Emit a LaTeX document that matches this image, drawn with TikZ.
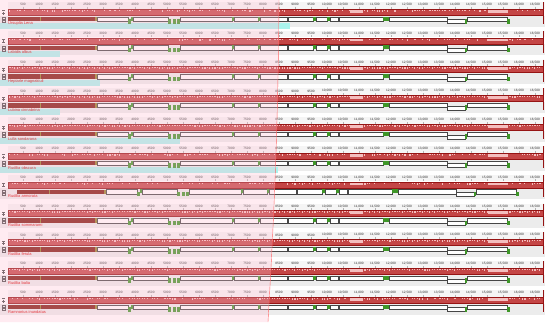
\documentclass[tikz,border=0pt]{standalone}
\usepackage{fontspec}
\setmainfont{Liberation Sans}
\usepackage{xcolor}
\usetikzlibrary{positioning}
\definecolor{lcbred}{RGB}{196,70,70}
\definecolor{lcbedge}{RGB}{150,20,20}
\definecolor{lcbpale}{RGB}{244,190,190}
\definecolor{rrnabrown}{RGB}{128,24,14}
\definecolor{rrnaolive}{RGB}{150,130,40}
\definecolor{trnagreen}{RGB}{62,150,40}
\definecolor{annotgray}{RGB}{236,236,236}
\definecolor{overlaypink}{RGB}{255,190,210}
\definecolor{bandcyan}{RGB}{170,244,238}

\begin{document}
\begin{tikzpicture}[x=1pt, y=-1pt,
  rulerlab/.style={font=\fontsize{3.2}{3.2}\selectfont, text=gray!35!black, inner sep=0pt},
  rulertick/.style={draw=gray!60, line width=0.3pt},
  speciesname/.style={font=\fontsize{4}{4}\selectfont, text=red!85!black, anchor=west, inner sep=0pt},
  lcbbox/.style={draw=lcbedge, line width=0.4pt},
  genebox/.style={draw=gray!55!black, line width=0.25pt, fill=white},
  rrnabar/.style={fill=rrnabrown},
  trnamark/.style={fill=trnagreen},
  sidemark/.style={draw=gray!60!black, line width=0.3pt}
]
\useasboundingbox (0,0) rectangle (550,322);
\fill[white] (0,0) rectangle (550,322);
\pgfmathsetseed{7}
% one Mauve panel per genome
\foreach \sp/\band [count=\k] in {Ursuplia Lena/290, Labidis albus/60, Heptarle magnakiuli/100, Lubina cinnabrina/60, Lulla sondarana/180, Rudilia obscura/278, Rudilia armorata/0, Rudilia sommarami/0, Rudilia ferula/0, Rudilia balia/0, Ramnorius inundatus/0} {
  \pgfmathsetmacro{\t}{(\k-1)*28.8}
  \pgfmathsetmacro{\s}{\k==7 ? 9 : 0}
  \begin{scope}[shift={(0,\t)}]
    % annotation background and highlight band
    \fill[annotgray] (0,15.5) rectangle (545,26.5);
    \ifnum\band>0 \fill[bandcyan] (0,22.5) rectangle (\band,28.5); \fi
    % ruler
    \fill[gray!8] (8,2) rectangle (545,8.5);
    \foreach \lab [count=\i] in {500,1000,1500,2000,2500,3000,3500,4000,4500,5000,5500,6000,6500,7000,7500,8000,8500,9000,9500,{10,000},{10,500},{11,000},{11,500},{12,000},{12,500},{13,000},{13,500},{14,000},{14,500},{15,000},{15,500},{16,000},{16,500}} {
      \node[rulerlab] (r\k-\i) at ({7+16*\i},4.5) {\lab};
      \draw[rulertick] ({7+16*\i},6.6) -- ({7+16*\i},8.5);
    }
    % aligned block with similarity profile
    \fill[lcbred] (8,9) rectangle (543,15);
    \foreach \xx in {9,11.5,...,540} {
      \pgfmathsetmacro{\hh}{0.3+2.2*rnd}
      \pgfmathsetmacro{\ww}{0.6+1.4*rnd}
      \fill[lcbpale] (\xx,9.4) rectangle ({\xx+\ww},{9.4+\hh});
    }
    \fill[lcbpale] (350,9.4) rectangle (363,12.5);
    \fill[lcbpale] (488,9.4) rectangle (508,12.5);
    \draw[lcbbox] (8,9) rectangle (543,15);
    \draw[lcbedge, line width=0.4pt] (543,2) -- (543,24);
    % side controls
    \draw[sidemark] (2,10.5) -- (5,10.5);
    \draw[sidemark] (2,13) -- (5,13) (3.5,11.5) -- (3.5,14.5);
    \draw[sidemark] (2,17) rectangle (5,19);
    \draw[sidemark] (2,20) rectangle (5,22);
    % features
    \begin{scope}[shift={(\s,0)}]
      \fill[rrnabar] (8,16.8) rectangle (95,21.2);
      \fill[rrnaolive] (39.5,16.8) rectangle (40.5,21.2);
      \fill[rrnaolive] (95,16.8) rectangle (97,21.2);
      \foreach \a/\b in {97/128, 133/168, 180/232, 234/258, 260/287, 288/313, 316/327, 330/338, 339/383, 389/447, 467/507} {
        \draw[genebox] (\a,16.8) rectangle (\b,21.2);
      }
      \draw[genebox] (447,19.5) rectangle (465,23.5);
      \foreach \a/\b in {128/130.5, 168/171, 172.5/175.5, 177/180, 465/467, 507/510} {
        \fill[trnamark] (\a,19) rectangle (\b,23.5);
      }
      \foreach \a/\b in {130.5/133, 232/234, 258/260, 313/316, 327/330, 383/386, 386/389} {
        \fill[trnamark] (\a,16.5) rectangle (\b,20.5);
      }
    \end{scope}
    \node[speciesname] (n\k) at (8,23.6) {\sp};
  \end{scope}
}
% left-hand highlight and connector line
\fill[overlaypink, opacity=0.3] (0,0) -- (279,0) .. controls (278,150) and (272,250) .. (268,322) -- (0,322) -- cycle;
\draw[red!60, line width=0.4pt] (279,0) .. controls (278,150) and (272,250) .. (268,322);
\end{tikzpicture}
\end{document}
